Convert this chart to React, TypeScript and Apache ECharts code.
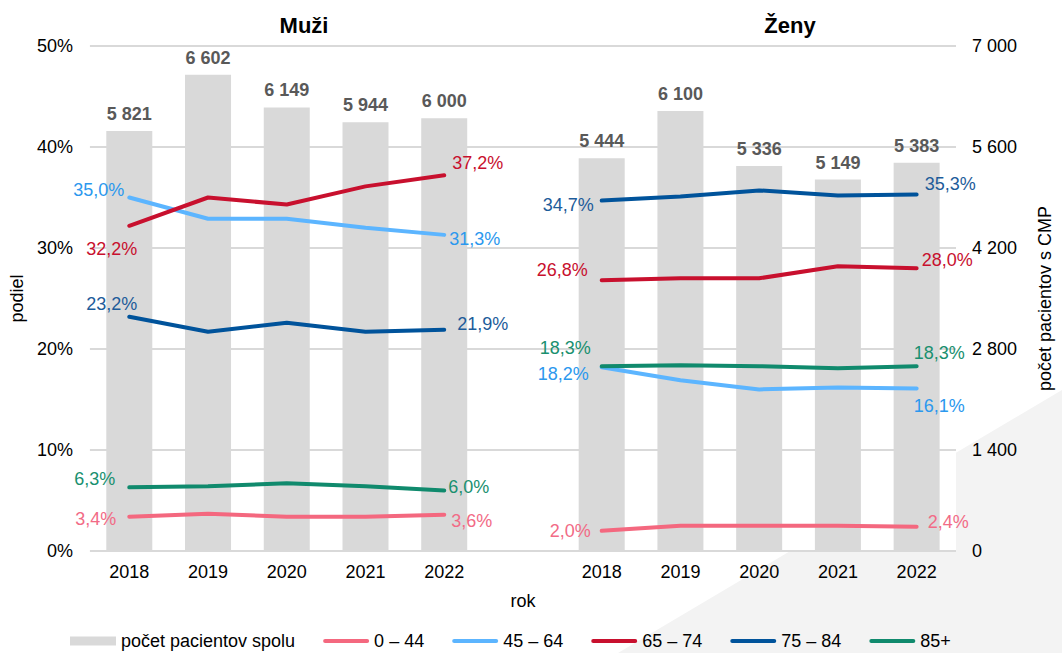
import React, { useEffect, useRef } from 'react';
import * as echarts from 'echarts';

// ---- data ----
const years = ['2018', '2019', '2020', '2021', '2022'];
const panelTitles = ['Muži', 'Ženy'];
const menTotal = [5821, 6602, 6149, 5944, 6000];
const womenTotal = [5444, 6100, 5336, 5149, 5383];
const ageGroups = ['0 – 44', '45 – 64', '65 – 74', '75 – 84', '85+'];
const men044 = [3.4, 3.7, 3.4, 3.4, 3.6];
const men4564 = [35.0, 32.9, 32.9, 32.0, 31.3];
const men6574 = [32.2, 35.0, 34.3, 36.1, 37.2];
const men7584 = [23.2, 21.7, 22.6, 21.7, 21.9];
const men85 = [6.3, 6.4, 6.7, 6.4, 6.0];
const women044 = [2.0, 2.5, 2.5, 2.5, 2.4];
const women4564 = [18.2, 16.9, 16.0, 16.2, 16.1];
const women6574 = [26.8, 27.0, 27.0, 28.2, 28.0];
const women7584 = [34.7, 35.1, 35.7, 35.2, 35.3];
const women85 = [18.3, 18.4, 18.3, 18.1, 18.3];
const barLegendName = 'počet pacientov spolu';

// ---- styling ----
const FONT = '"Liberation Sans", Arial, sans-serif';
const lineColors = ['#f4687f', '#5cb5ff', '#c8102e', '#00539b', '#108a6d'];
const labelColors = ['#f26b86', '#2b98ee', '#c8102e', '#1d5c9a', '#19906f'];
// [firstOffset, lastOffset]
const menOffsets: number[][][] = [
  [[-8, 2], [2, 6]],
  [[0, -8], [0, 4]],
  [[13, 23], [3, -12]],
  [[13, -13], [8, -6]],
  [[-9, -8], [-1, -3]],
];
const womenOffsets: number[][][] = [
  [[-6, 0], [6, -5]],
  [[-8, 7], [-8, 18]],
  [[-9, -10], [0, -8]],
  [[-3, 4], [3, -10]],
  [[-6, -18], [-8, -13]],
];

const fmtThousands = (n: number) => String(n).replace(/\B(?=(\d{3})+(?!\d))/g, ' ');
const fmtPct = (v: number) => v.toFixed(1).replace('.', ',') + '%';

const categories = [...years, '', ...years];
const gap = ['-'];
const blanks = (n: number) => Array(n).fill('-');

function lineSeries(name: string, values: number[], idx: number, women: boolean) {
  const offs = women ? womenOffsets[idx] : menOffsets[idx];
  const items = values.map((v, i) => {
    if (i === 0) {
      return { value: v, label: { show: true, position: 'left', offset: offs[0] } };
    }
    if (i === values.length - 1) {
      return { value: v, label: { show: true, position: 'right', offset: offs[1] } };
    }
    return v;
  });
  const data = women ? [...blanks(6), ...items] : [...items, ...blanks(6)];
  return {
    type: 'line',
    name,
    data,
    symbol: 'circle',
    symbolSize: 0,
    showSymbol: true,
    itemStyle: { color: lineColors[idx], borderWidth: 0 },
    lineStyle: { color: lineColors[idx], width: 4, cap: 'round', join: 'round' },
    connectNulls: false,
    z: 5,
    silent: true,
    emphasis: { disabled: true },
    label: {
      show: false,
      color: labelColors[idx],
      fontSize: 18,
      fontFamily: FONT,
      formatter: (p: any) => fmtPct(p.value),
    },
  };
}

const linePath = 'path://M2,0H44A2,2,0,0,1,44,4H2A2,2,0,0,1,2,0Z';

export default function App() {
  const ref = useRef<HTMLDivElement>(null);
  useEffect(() => {
    if (!ref.current) return;
    const chart = echarts.init(ref.current, undefined, { renderer: 'svg' });
    const menSets = [men044, men4564, men6574, men7584, men85];
    const womenSets = [women044, women4564, women6574, women7584, women85];
    const series: any[] = [
      {
        type: 'bar',
        name: barLegendName,
        data: [...menTotal, ...gap, ...womenTotal],
        yAxisIndex: 1,
        barWidth: 46,
        itemStyle: { color: '#d9d9d9' },
        silent: true,
        z: 2,
        label: {
          show: true,
          position: 'top',
          distance: 8,
          color: '#595959',
          fontWeight: 'bold',
          fontSize: 18,
          fontFamily: FONT,
          formatter: (p: any) => fmtThousands(p.value),
        },
      },
    ];
    ageGroups.forEach((g, i) => series.push(lineSeries(g, menSets[i], i, false)));
    ageGroups.forEach((g, i) => series.push(lineSeries(g, womenSets[i], i, true)));

    const titleStyle = (text: string) => ({
      text,
      align: 'center',
      verticalAlign: 'middle',
      fontSize: 22,
      fontWeight: 'bold',
      fontFamily: FONT,
      fill: '#000',
    });

    chart.setOption({
      animation: false,
      backgroundColor: '#ffffff',
      textStyle: { fontFamily: FONT },
      graphic: [
        {
          type: 'polygon',
          z: -10,
          silent: true,
          shape: { points: [[618, 653], [1062, 390], [1062, 653]] },
          style: { fill: '#f3f3f3' },
        },
        { type: 'text', x: 304, y: 25, z: 100, style: titleStyle(panelTitles[0]) },
        { type: 'text', x: 790, y: 25, z: 100, style: titleStyle(panelTitles[1]) },
      ],
      grid: {
        left: 84,
        right: 97,
        top: 46,
        bottom: 102,
        show: true,
        backgroundColor: '#ffffff',
        borderWidth: 0,
        containLabel: false,
      },
      legend: {
        left: 70,
        top: 632,
        padding: 0,
        itemWidth: 46,
        itemHeight: 9,
        itemGap: 28,
        selectedMode: false,
        textStyle: { fontSize: 18, lineHeight: 18, color: '#000', fontFamily: FONT },
        data: [
          { name: barLegendName, icon: 'rect' },
          ...ageGroups.map((n) => ({ name: n, icon: linePath })),
        ],
      },
      xAxis: {
        type: 'category',
        data: categories,
        axisLine: { show: false },
        axisTick: { show: false },
        axisLabel: { interval: 0, fontSize: 18, color: '#000', margin: 12, fontFamily: FONT },
        name: 'rok',
        nameLocation: 'middle',
        nameGap: 41,
        nameTextStyle: { fontSize: 18, color: '#000', fontFamily: FONT },
      },
      yAxis: [
        {
          type: 'value',
          min: 0,
          max: 50,
          interval: 10,
          position: 'left',
          axisLine: { show: false },
          axisTick: { show: false },
          axisLabel: { formatter: '{value}%', fontSize: 18, color: '#000', margin: 17, fontFamily: FONT },
          splitLine: { show: true, lineStyle: { color: '#d9d9d9', width: 2 } },
          name: 'podiel',
          nameLocation: 'middle',
          nameRotate: 90,
          nameGap: 57,
          nameTextStyle: { fontSize: 18, color: '#000', fontFamily: FONT },
        },
        {
          type: 'value',
          min: 0,
          max: 7000,
          interval: 1400,
          position: 'right',
          axisLine: { show: false },
          axisTick: { show: false },
          axisLabel: {
            formatter: (v: number) => fmtThousands(v),
            fontSize: 18,
            color: '#000',
            margin: 16,
            fontFamily: FONT,
          },
          splitLine: { show: false },
          name: 'počet pacientov s CMP',
          nameLocation: 'middle',
          nameRotate: 90,
          nameGap: 80,
          nameTextStyle: { fontSize: 18, color: '#000', fontFamily: FONT },
        },
      ],
      series,
    });
    return () => chart.dispose();
  }, []);
  return (
    <div
      ref={ref}
      style={{ position: 'fixed', left: 0, top: 0, width: 1062, height: 653 }}
    />
  );
}
